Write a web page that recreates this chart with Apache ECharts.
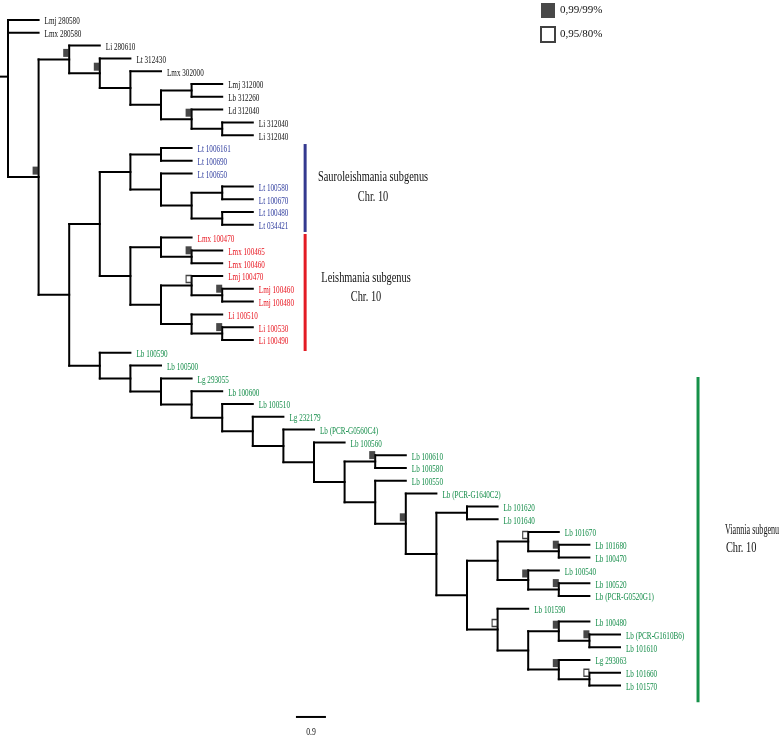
<!DOCTYPE html>
<html><head><meta charset="utf-8">
<script src="https://cdn.jsdelivr.net/npm/echarts@6/dist/echarts.min.js"></script>
<style>html,body{margin:0;padding:0;background:#fff}#c{width:779px;height:735px}</style>
</head><body><div id="c"></div>
<script>
// ---------- DATA ----------
const leafNames = [
  'Lmj 280580','Lmx 280580','Li 280610','Lt 312430','Lmx 302000','Lmj 312000','Lb 312260','Ld 312040','Li 312040','Li 312040',
  'Lt 1006161','Lt 100690','Lt 100650','Lt 100580','Lt 100670','Lt 100480','Lt 034421',
  'Lmx 100470','Lmx 100465','Lmx 100460','Lmj 100470','Lmj 100460','Lmj 100480','Li 100510','Li 100530','Li 100490',
  'Lb 100590','Lb 100500','Lg 293055','Lb 100600','Lb 100510','Lg 232179','Lb (PCR-G0560C4)','Lb 100560','Lb 100610','Lb 100580',
  'Lb 100550','Lb (PCR-G1640C2)','Lb 101620','Lb 101640','Lb 101670','Lb 101680','Lb 100470','Lb 100540','Lb 100520','Lb (PCR-G0520G1)',
  'Lb 101590','Lb 100480','Lb (PCR-G1610B6)','Lb 101610','Lg 293063','Lb 101660','Lb 101570'
];
// group of each leaf: 0 = outgroup (black), 1 = Sauroleishmania, 2 = Leishmania, 3 = Viannia
const leafGroupRanges = [[0, 9], [10, 16], [17, 25], [26, 52]];

// topology (leaf indices), every branch = 1 unit (cladogram)
const cladeA  = [2, [3, [4, [[5, 6], [7, [8, 9]]]]]];
const sauro   = [[10, 11], [12, [[13, 14], [15, 16]]]];
const leish   = [[17, [18, 19]], [[20, [21, 22]], [23, [24, 25]]]];
const vCore   = [[47, [48, 49]], [50, [51, 52]]];
const vUpper  = [[40, [41, 42]], [43, [44, 45]]];
const viannia = [26, [27, [28, [29, [30, [31, [32, [33, [[34, 35], [36, [37, [[38, 39], [vUpper, [46, vCore]]]]]]]]]]]]]];
const tree    = [0, 1, [cladeA, [[sauro, leish], viannia]]];

// support (node identified by its first..last leaf)
const supportHigh = [[2,52],[2,9],[3,9],[7,9],[18,19],[21,22],[24,25],[34,35],[37,52],[41,42],[43,45],[44,45],[47,49],[48,49],[50,52]];
const supportLow  = [[20,22],[40,42],[46,52],[51,52]];
const supportNames = ['0,99/99%', '0,95/80%'];

const cladeNames = ['Sauroleishmania subgenus', 'Leishmania subgenus', 'Viannia subgenus'];
const cladeSub = ['Chr. 10', 'Chr. 10', 'Chr. 10'];
const scaleBarLabel = '0.9';

// ---------- LAYOUT / STYLE CONFIG ----------
const groupColors = ['#111111', '#3340a0', '#e8151f', '#138c48'];
const barColors = ['#34398f', '#e31b23', '#159149'];
const cladeLayout = [
  { bar: [9.71, 9.69, 16.56],  t1: [11.93, 12.27], t2: [11.93, 13.83], align: 'center', s1: 0.69 },
  { bar: [9.71, 16.72, 25.86], t1: [11.70, 20.16], t2: [11.70, 21.64], align: 'center', s1: 0.69 },
  { bar: [22.55, 27.9, 53.3],  t1: [23.43, 39.84], t2: [23.46, 41.25], align: 'left',   s1: 0.54 }
];
const scaleBarPos = { x0: 9.41, x1: 10.39, y: 54.45, ty: 55.6 };
const rootStub = 0.27;
const SERIF = '"Liberation Serif","Times New Roman",serif';

// ---------- compute tree layout ----------
const segs = [], leaves = [], nodes = [];
function lay(n, d) {
  if (typeof n === 'number') { leaves.push([d, n]); return { y: n, lo: n, hi: n }; }
  const ch = n.map(c => lay(c, d + 1));
  const ys = ch.map(c => c.y);
  const y = ys.reduce((s, v) => s + v, 0) / ys.length;
  segs.push([d, Math.min(...ys), d, Math.max(...ys)]);
  ch.forEach(c => segs.push([d, c.y, d + 1, c.y]));
  const lo = ch[0].lo, hi = ch[ch.length - 1].hi;
  nodes.push({ x: d, y, lo, hi });
  return { y, lo, hi };
}
const rootInfo = lay(tree, 0);
segs.push([-rootStub, rootInfo.y, 0, rootInfo.y]);
function nodeAt(r) { const n = nodes.find(k => k.lo === r[0] && k.hi === r[1]); return [n.x, n.y]; }
const highPts = supportHigh.map(nodeAt);
const lowPts = supportLow.map(nodeAt);
function groupOf(i) { return leafGroupRanges.findIndex(r => i >= r[0] && i <= r[1]); }

const chart = echarts.init(document.getElementById('c'), null, { renderer: 'canvas' });
chart.setOption({
  animation: false,
  backgroundColor: '#ffffff',
  grid: { left: 8, top: 20, width: 612, height: 665.6 },
  xAxis: { type: 'value', min: 0, max: 20, show: false },
  yAxis: { type: 'value', min: 0, max: 52, inverse: true, show: false },
  legend: {
    data: supportNames, orient: 'vertical', left: 540, top: 3, padding: 0,
    itemWidth: 14, itemHeight: 15, itemGap: 8,
    textStyle: { fontFamily: SERIF, fontSize: 11, color: '#111' }
  },
  series: [
    {
      type: 'custom', name: 'branches', data: segs, silent: true, z: 2,
      renderItem: (p, api) => {
        const a = api.coord([api.value(0), api.value(1)]);
        const b = api.coord([api.value(2), api.value(3)]);
        return { type: 'line', shape: { x1: a[0], y1: a[1], x2: b[0], y2: b[1] },
          style: { stroke: '#000', lineWidth: 2, lineCap: 'square' } };
      }
    },
    {
      type: 'custom', name: 'leaves', data: leaves, silent: true, z: 3,
      renderItem: (p, api) => {
        const idx = api.value(1);
        const c = api.coord([api.value(0), idx]);
        return { type: 'text', x: c[0] + 6, y: c[1] + 1.5, scaleX: 0.65,
          style: { text: leafNames[idx], fill: groupColors[groupOf(idx)], font: '11px ' + SERIF,
            verticalAlign: 'middle', align: 'left' } };
      }
    },
    {
      type: 'scatter', name: supportNames[0], data: highPts, symbol: 'rect', symbolSize: [6, 8],
      symbolOffset: [-3, -6.5], itemStyle: { color: '#1a1a1a' }, z: 4, silent: true
    },
    {
      type: 'scatter', name: supportNames[1], data: lowPts, symbol: 'rect', symbolSize: [5, 7],
      symbolOffset: [-3, -6.5], itemStyle: { color: '#ffffff', borderColor: '#111', borderWidth: 1.3 }, z: 4, silent: true
    },
    {
      type: 'custom', name: 'clades', data: cladeNames.map((n, i) => [i]), silent: true, z: 3,
      renderItem: (p, api) => {
        const i = p.dataIndex, L = cladeLayout[i];
        const b0 = api.coord([L.bar[0], L.bar[1]]), b1 = api.coord([L.bar[0], L.bar[2]]);
        const t1 = api.coord(L.t1), t2 = api.coord(L.t2);
        return { type: 'group', children: [
          { type: 'rect', shape: { x: b0[0] - 1.5, y: b0[1], width: 3, height: b1[1] - b0[1] }, style: { fill: barColors[i] } },
          { type: 'text', x: t1[0], y: t1[1], scaleX: L.s1,
            style: { text: cladeNames[i], font: '15px ' + SERIF, fill: '#111', align: L.align, verticalAlign: 'middle' } },
          { type: 'text', x: t2[0], y: t2[1], scaleX: 0.69,
            style: { text: cladeSub[i], font: '15px ' + SERIF, fill: '#111', align: L.align, verticalAlign: 'middle' } }
        ] };
      }
    },
    {
      type: 'custom', name: 'scalebar', data: [[scaleBarPos.x0, scaleBarPos.x1, scaleBarPos.y]], silent: true,
      renderItem: (p, api) => {
        const a = api.coord([api.value(0), api.value(2)]), b = api.coord([api.value(1), api.value(2)]);
        const t = api.coord([(api.value(0) + api.value(1)) / 2, scaleBarPos.ty]);
        return { type: 'group', children: [
          { type: 'line', shape: { x1: a[0], y1: a[1], x2: b[0], y2: b[1] }, style: { stroke: '#000', lineWidth: 2 } },
          { type: 'text', x: t[0], y: t[1], scaleX: 0.7,
            style: { text: scaleBarLabel, font: '11px ' + SERIF, fill: '#111', align: 'center', verticalAlign: 'middle' } }
        ] };
      }
    }
  ]
});
</script>
</body></html>
